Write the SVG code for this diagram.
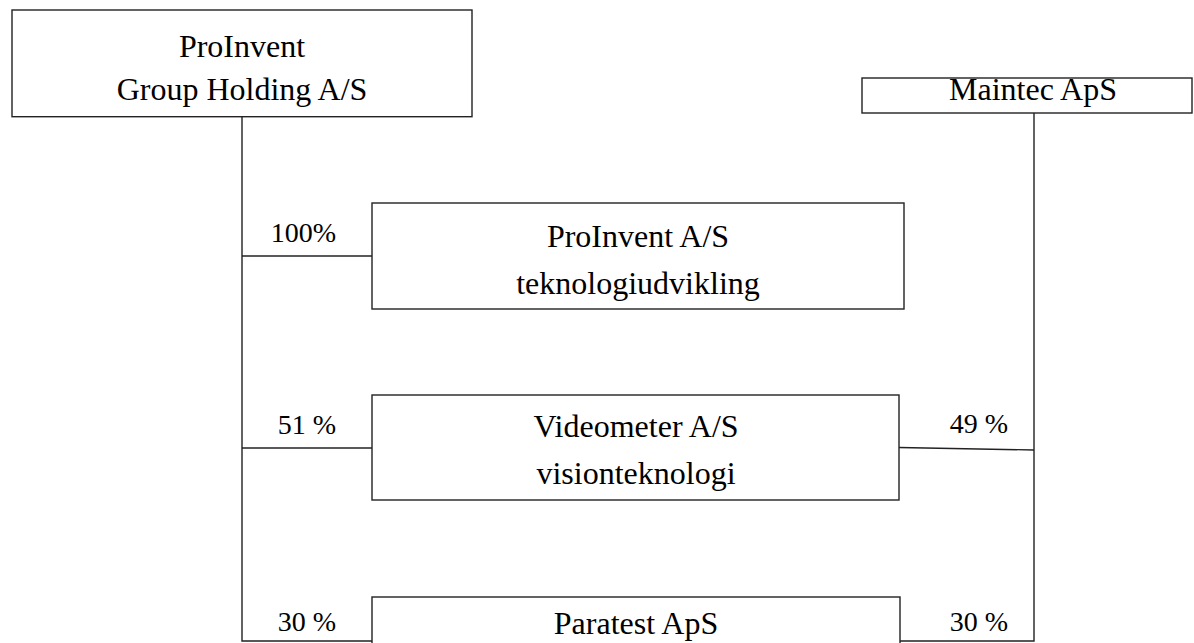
<svg xmlns="http://www.w3.org/2000/svg" width="1194" height="643" viewBox="0 0 1194 643">
<style>
.box{fill:#fff;stroke:#222;stroke-width:1.4}
.ln{fill:none;stroke:#222;stroke-width:1.4}
.t{font-family:"Liberation Serif","Times New Roman",serif;font-size:32px;fill:#000;text-anchor:middle}
.p{font-family:"Liberation Serif","Times New Roman",serif;font-size:28px;fill:#000;text-anchor:end}
</style>
<rect width="1194" height="643" fill="#fff"/>
<g id="connectors">
<path class="ln" d="M242,116.7 V641 H372"/>
<path class="ln" d="M242,256 H372"/>
<path class="ln" d="M242,448 H372"/>
<path class="ln" d="M1034,113 V641 H900"/>
<path class="ln" d="M899,447.5 L1034,450"/>
<text class="p" x="336" y="242">100%</text>
<text class="p" x="336" y="434">51 %</text>
<text class="p" x="336" y="631">30 %</text>
<text class="p" x="1008" y="433">49 %</text>
<text class="p" x="1008" y="631">30 %</text>
</g>
<g id="node-holding">
<rect class="box" x="12" y="10" width="460" height="106.7"/>
<text class="t" x="242" y="57">ProInvent</text>
<text class="t" x="242" y="100">Group Holding A/S</text>
</g>
<g id="node-maintec">
<rect class="box" x="862" y="78" width="330" height="35"/>
<text class="t" x="1033" y="100">Maintec ApS</text>
</g>
<g id="node-proinvent">
<rect class="box" x="372" y="203" width="532" height="106"/>
<text class="t" x="638" y="247">ProInvent A/S</text>
<text class="t" x="638" y="294">teknologiudvikling</text>
</g>
<g id="node-videometer">
<rect class="box" x="372" y="395" width="527" height="105"/>
<text class="t" x="636" y="437">Videometer A/S</text>
<text class="t" x="636" y="484">visionteknologi</text>
</g>
<g id="node-paratest">
<rect class="box" x="372" y="597" width="528" height="60"/>
<text class="t" x="636" y="634">Paratest ApS</text>
</g>
</svg>
